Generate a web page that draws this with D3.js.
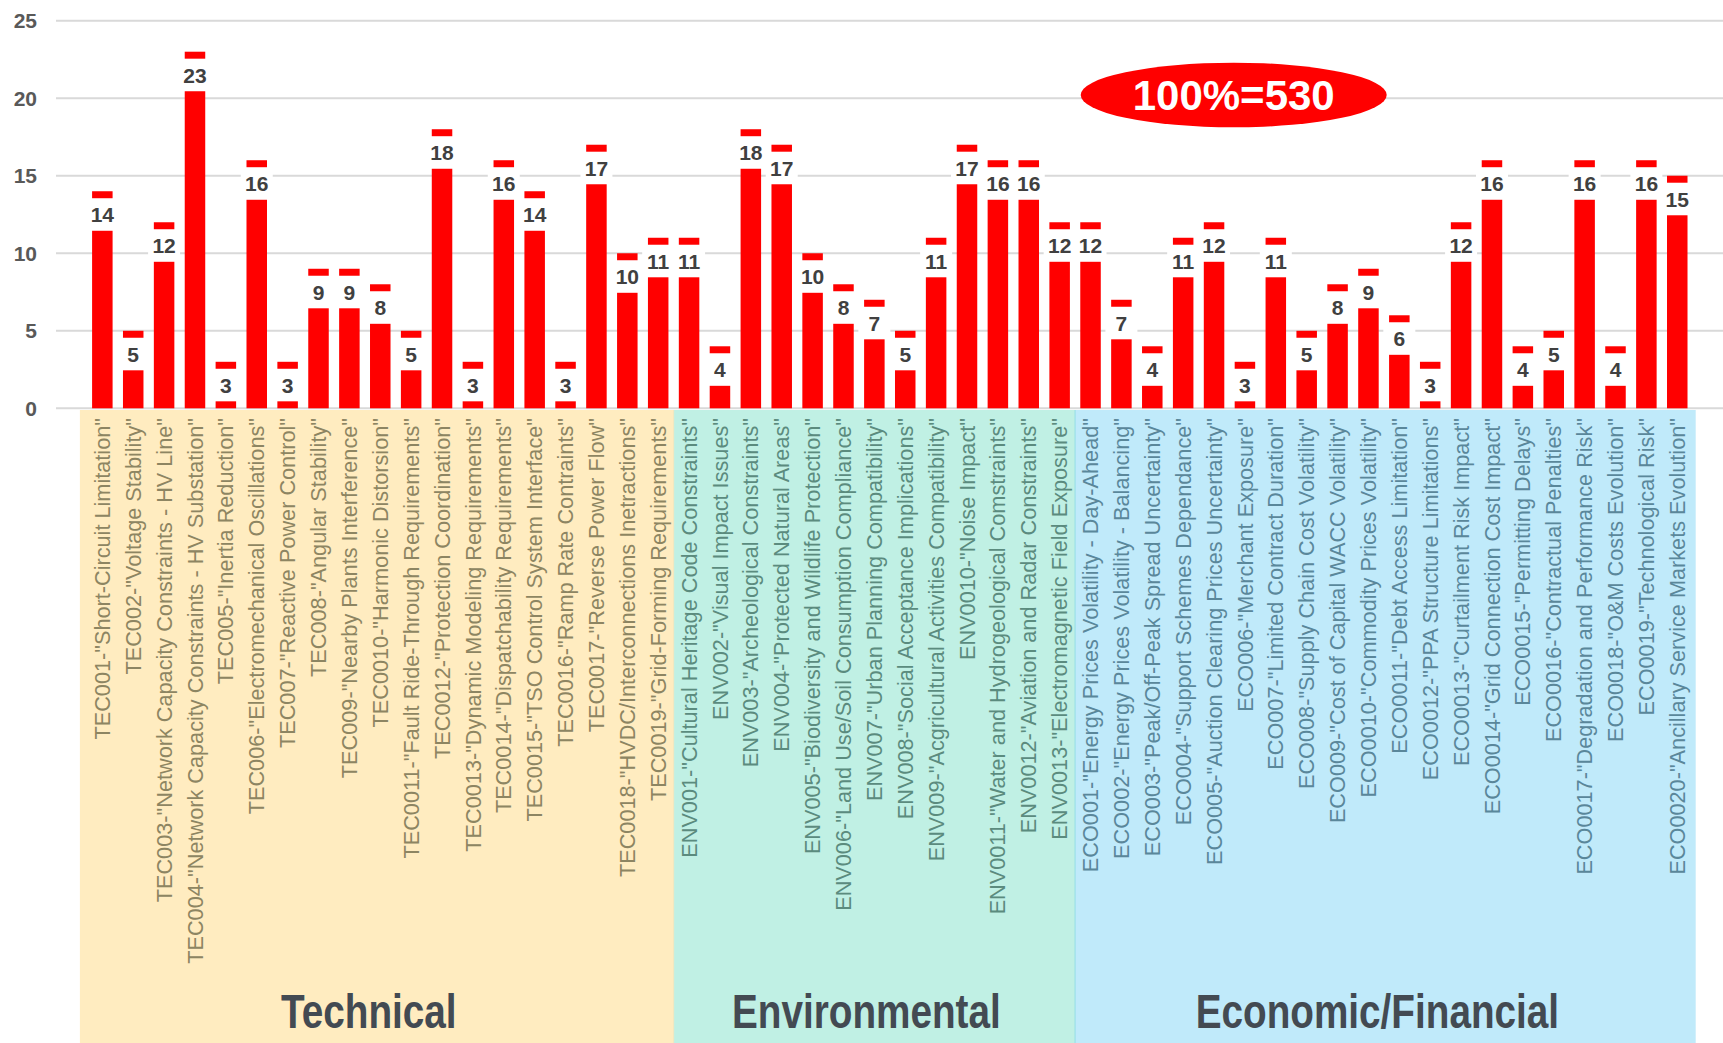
<!DOCTYPE html>
<html>
<head>
<meta charset="utf-8">
<script src="https://cdn.jsdelivr.net/npm/d3@7"></script>
<style>
    html, body { margin: 0; padding: 0; background: #fff; }
    svg { display: block; font-family: "Liberation Sans", Arial, sans-serif; }
</style>
</head>
<body>
<svg id="chart" width="1723" height="1043"></svg>
<script>
// categories and values
const techLabels = [
    'TEC001-"Short-Circuit Limitation"',
    'TEC002-"Voltage Stability"',
    'TEC003-"Network Capacity Constraints - HV Line"',
    'TEC004-"Network Capacity Constraints - HV Substation"',
    'TEC005-"Inertia Reduction"',
    'TEC006-"Electromechanical Oscillations"',
    'TEC007-"Reactive Power Control"',
    'TEC008-"Angular Stability"',
    'TEC009-"Nearby Plants Interference"',
    'TEC0010-"Harmonic Distorsion"',
    'TEC0011-"Fault Ride-Through Requirements"',
    'TEC0012-"Protection Coordination"',
    'TEC0013-"Dynamic Modeling Requirements"',
    'TEC0014-"Dispatchability Requirements"',
    'TEC0015-"TSO Control System Interface"',
    'TEC0016-"Ramp Rate Contraints"',
    'TEC0017-"Reverse Power Flow"',
    'TEC0018-"HVDC/Interconnections Inetractions"',
    'TEC0019-"Grid-Forming Requirements"'
];
const techValues = [14, 5, 12, 23, 3, 16, 3, 9, 9, 8, 5, 18, 3, 16, 14, 3, 17, 10, 11];

const envLabels = [
    'ENV001-"Cultural Heritage Code Constraints"',
    'ENV002-"Visual Impact Issues"',
    'ENV003-"Archeological Constraints"',
    'ENV004-"Protected Natural Areas"',
    'ENV005-"Biodiversity and Wildlife Protection"',
    'ENV006-"Land Use/Soil Consumption Compliance"',
    'ENV007-"Urban Planning Compatibility"',
    'ENV008-"Social Acceptance Implications"',
    'ENV009-"Acgricultural Activities Compatibility"',
    'ENV0010-"Noise Impact"',
    'ENV0011-"Water and Hydrogeological Comstraints"',
    'ENV0012-"Aviation and Radar Constraints"',
    'ENV0013-"Electromagnetic Field Exposure"'
];
const envValues = [11, 4, 18, 17, 10, 8, 7, 5, 11, 17, 16, 16, 12];

const ecoLabels = [
    'ECO001-"Energy Prices Volatility - Day-Ahead"',
    'ECO002-"Energy Prices Volatility - Balancing"',
    'ECO003-"Peak/Off-Peak Spread Uncertainty"',
    'ECO004-"Support Schemes Dependance"',
    'ECO005-"Auction Clearing Prices Uncertainty"',
    'ECO006-"Merchant Exposure"',
    'ECO007-"Limited Contract Duration"',
    'ECO008-"Supply Chain Cost Volatility"',
    'ECO009-"Cost of Capital WACC Volatility"',
    'ECO0010-"Commodity Prices Volatility"',
    'ECO0011-"Debt Access Limitation"',
    'ECO0012-"PPA Structure Limitations"',
    'ECO0013-"Curtailment Risk Impact"',
    'ECO0014-"Grid Connection Cost Impact"',
    'ECO0015-"Permitting Delays"',
    'ECO0016-"Contractual Penalties"',
    'ECO0017-"Degradation and Performance Risk"',
    'ECO0018-"O&M Costs Evolution"',
    'ECO0019-"Technological Risk"',
    'ECO0020-"Ancillary Service Markets Evolution"'
];
const ecoValues = [12, 7, 4, 11, 12, 3, 11, 5, 8, 9, 6, 3, 12, 16, 4, 5, 16, 4, 16, 15];

const groupNames = ['Technical', 'Environmental', 'Economic/Financial'];
const yTicks = [0, 5, 10, 15, 20, 25];

const groupStyle = [
    { fill: '#ffecc0', text: '#8d8562' },
    { fill: '#c0f0e4', text: '#5b8b7e' },
    { fill: '#c0eafa', text: '#5a879a' }
];

const groups = [
    { name: groupNames[0], labels: techLabels, values: techValues },
    { name: groupNames[1], labels: envLabels, values: envValues },
    { name: groupNames[2], labels: ecoLabels, values: ecoValues }
];

const rows = [];
groups.forEach((g, gi) => {
    g.labels.forEach((label, i) => rows.push({ label, value: g.values[i], group: gi }));
});

const total = d3.sum(rows, d => d.value);

// gap between bar top and value marker, in data units
const GAP = 2.55;
const MARK = 0.45;

const svg = d3.select('#chart');

const x = d3.scaleBand()
    .domain(rows.map(d => d.label))
    .range([86.9, 1692.7])
    .paddingInner(0.336)
    .paddingOuter(0.168);

const y = d3.scaleLinear()
    .domain([0, 25])
    .range([408.3, 20.7]);

const step = x.step();
const bw = x.bandwidth();
const edge = label => x(label) - (step - bw) / 2;

/**
 * Category panels behind the axis labels
 */
const panels = svg.append('g').attr('class', 'panels');

groups.forEach((g, gi) => {
    let x0 = edge(g.labels[0]);
    let x1 = edge(g.labels[g.labels.length - 1]) + step;
    if (gi === 0) x0 -= 7;
    if (gi === groups.length - 1) x1 += 3;

    panels.append('rect')
        .attr('x', x0)
        .attr('y', 410)
        .attr('width', x1 - x0)
        .attr('height', 1043 - 410)
        .style('fill', groupStyle[gi].fill)

    if (gi > 0) {
        panels.append('line')
            .attr('x1', x0).attr('x2', x0)
            .attr('y1', 410).attr('y2', 1043)
            .style('stroke', gi === 2 ? '#92dde6' : '#f3e6bd')
            .style('stroke-width', 1)
    }

    panels.append('text')
        .attr('transform', `translate(${(x0 + x1) / 2 - 8}, 1027.5) scale(0.79, 1)`)
        .attr('text-anchor', 'middle')
        .style('font-size', '49px')
        .style('font-weight', 'bold')
        .style('fill', '#434a52')
        .text(g.name)
});

/**
 * Grid and y axis
 */
const grid = svg.append('g').attr('class', 'grid');

grid.selectAll('line')
    .data(yTicks)
    .join('line')
    .attr('x1', 56)
    .attr('x2', 1723)
    .attr('y1', d => y(d))
    .attr('y2', d => y(d))
    .style('stroke', '#d9d9d9')
    .style('stroke-width', 2)

grid.selectAll('text')
    .data(yTicks)
    .join('text')
    .attr('x', 37)
    .attr('y', d => y(d))
    .attr('dy', '0.36em')
    .attr('text-anchor', 'end')
    .style('font-size', '21px')
    .style('font-weight', 'bold')
    .style('fill', '#595959')
    .text(d => d)

/**
 * Bars, value markers and labels
 */
const bars = svg.append('g').attr('class', 'bars');

const bar = bars.selectAll('g')
    .data(rows)
    .join('g')
    .attr('transform', d => `translate(${x(d.label)}, 0)`)

bar.append('rect')
    .attr('class', 'label-bg')
    .attr('x', bw / 2 - 16)
    .attr('y', d => y(d.value - MARK) + 1)
    .attr('width', 32)
    .attr('height', d => y(d.value - GAP) - y(d.value - MARK) - 2)
    .style('fill', '#fff')

bar.append('rect')
    .attr('x', 0)
    .attr('width', bw)
    .attr('y', d => y(d.value - GAP))
    .attr('height', d => y(0) - y(d.value - GAP))
    .style('fill', '#ff0000')

bar.append('rect')
    .attr('x', 0)
    .attr('width', bw)
    .attr('y', d => y(d.value))
    .attr('height', d => y(d.value - MARK) - y(d.value))
    .style('fill', '#ff0000')

bar.append('text')
    .attr('x', bw / 2)
    .attr('y', d => y(d.value - 1.5))
    .attr('dy', '0.36em')
    .attr('text-anchor', 'middle')
    .style('font-size', '21px')
    .style('font-weight', 'bold')
    .style('fill', '#404040')
    .text(d => d.value)

/**
 * Rotated category labels
 */
svg.append('g')
    .attr('class', 'x-labels')
    .selectAll('text')
    .data(rows)
    .join('text')
    .attr('transform', d => `translate(${x(d.label) + bw / 2}, 418) rotate(-90)`)
    .attr('dy', '0.35em')
    .attr('text-anchor', 'end')
    .style('font-size', '21.7px')
    .style('fill', d => groupStyle[d.group].text)
    .text(d => d.label)

/**
 * Total annotation
 */
const badge = svg.append('g').attr('transform', 'translate(1233.7, 95)');

badge.append('ellipse')
    .attr('rx', 153)
    .attr('ry', 32.3)
    .style('fill', '#ff0000')

badge.append('text')
    .attr('text-anchor', 'middle')
    .attr('dy', '0.36em')
    .style('font-size', '42px')
    .style('font-weight', 'bold')
    .style('fill', '#fff')
    .text(`100%=${total}`)
</script>
</body>
</html>
